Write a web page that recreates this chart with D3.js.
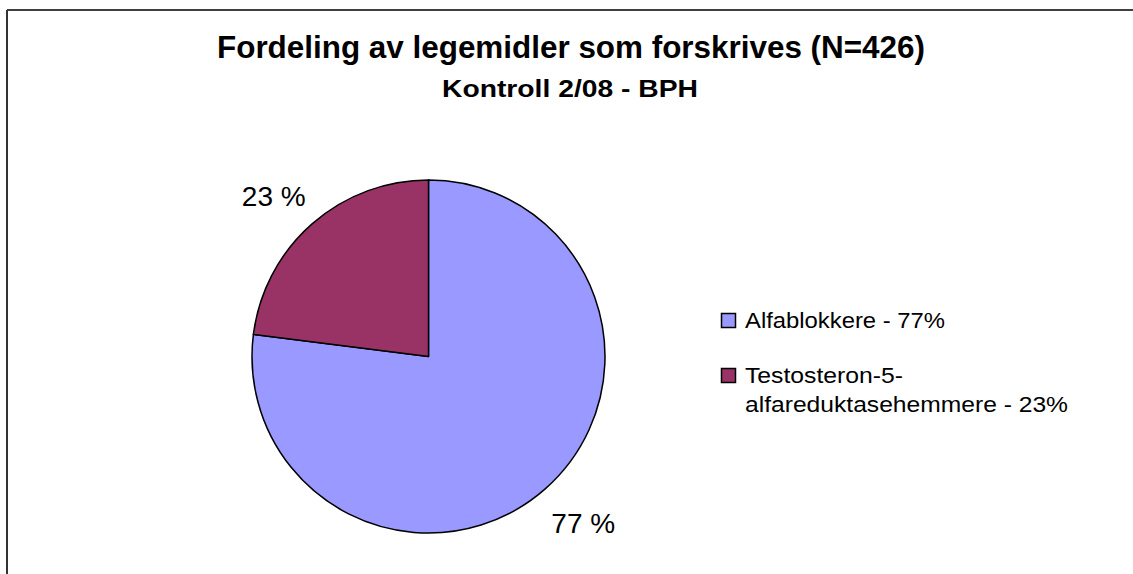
<!DOCTYPE html>
<html>
<head>
<meta charset="utf-8">
<script src="https://cdnjs.cloudflare.com/ajax/libs/d3/7.8.5/d3.min.js"></script>
<style>
  html, body { margin: 0; padding: 0; background: #fff; }
  svg { display: block; }
  text { font-family: Arial, "Liberation Sans", sans-serif; }
</style>
</head>
<body>
<svg id="chart" width="1133" height="574"></svg>
<script>
// ---- data ----
const categories = ["Alfablokkere", "Testosteron-5-alfareduktasehemmere"];
const values = [77, 23];
const sliceLabels = ["77 %", "23 %"];
const legendLines = [["Alfablokkere - 77%"], ["Testosteron-5-", "alfareduktasehemmere - 23%"]];
const colors = ["#9999FF", "#993366"];
const titleText = "Fordeling av legemidler som forskrives (N=426)";
const subtitleText = "Kontroll 2/08 - BPH";

// ---- layout ----
const W = 1133, H = 574;
const svg = d3.select("#chart");
svg.append("rect").attr("width", W).attr("height", H).attr("fill", "#fff");

// partial frame (top and left edges)
svg.append("line").attr("x1", 7).attr("y1", 10).attr("x2", W).attr("y2", 10)
  .attr("stroke", "#000").attr("stroke-width", 1.5);
svg.append("line").attr("x1", 7).attr("y1", 10).attr("x2", 7).attr("y2", H)
  .attr("stroke", "#333").attr("stroke-width", 2);

// titles
svg.append("text").attr("x", 571).attr("y", 58).attr("text-anchor", "middle")
  .attr("font-size", 31).attr("font-weight", "bold").attr("fill", "#000")
  .attr("textLength", 708).attr("lengthAdjust", "spacingAndGlyphs")
  .text(titleText);
svg.append("text").attr("x", 570).attr("y", 97).attr("text-anchor", "middle")
  .attr("font-size", 23).attr("font-weight", "bold").attr("fill", "#000")
  .attr("textLength", 256).attr("lengthAdjust", "spacingAndGlyphs")
  .text(subtitleText);

// pie
const cx = 428.5, cy = 356.5, r = 176.5;
const pie = d3.pie().sort(null).value(d => d).startAngle(0).endAngle(2 * Math.PI);
const arcs = pie(values);
const arc = d3.arc().innerRadius(0).outerRadius(r);
// label positions: unit-radius centroid stretched to an ellipse around the pie
const unitArc = d3.arc().innerRadius(1).outerRadius(1);
const labelRX = 234, labelRY = 218;
const labelPos = d => { const c = unitArc.centroid(d); return [c[0] * labelRX, c[1] * labelRY]; };

const g = svg.append("g").attr("transform", `translate(${cx},${cy})`);
g.selectAll("path.slice").data(arcs).join("path")
  .attr("class", "slice")
  .attr("d", arc)
  .attr("fill", (d, i) => colors[i])
  .attr("stroke", "#000").attr("stroke-width", 1.5).attr("stroke-linejoin", "round");

g.selectAll("text.lbl").data(arcs).join("text")
  .attr("class", "lbl")
  .attr("transform", d => `translate(${labelPos(d)})`)
  .attr("text-anchor", "middle")
  .attr("dy", "0.45em")
  .attr("font-size", 28).attr("fill", "#000")
  .text((d, i) => sliceLabels[i]);

// legend
const legX = 721, legY0 = 313, legStep = 55;
const leg = svg.append("g");
const lineWidths = [[200], [158, 323]];
categories.forEach((c, i) => {
  const y = legY0 + i * legStep;
  leg.append("rect").attr("x", legX + 0.5).attr("y", y + 0.5).attr("width", 14).attr("height", 14)
    .attr("fill", colors[i]).attr("stroke", "#000").attr("stroke-width", 1.5);
  legendLines[i].forEach((ln, j) => {
    leg.append("text").attr("x", legX + 24).attr("y", y + 15 + j * 29)
      .attr("font-size", 22).attr("fill", "#000")
      .attr("textLength", lineWidths[i][j]).attr("lengthAdjust", "spacingAndGlyphs")
      .text(ln);
  });
});
</script>
</body>
</html>
